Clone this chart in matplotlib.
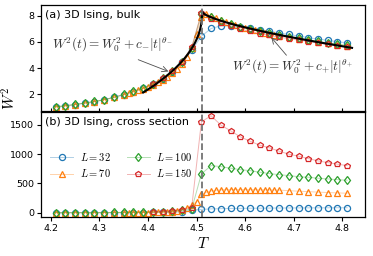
import matplotlib
matplotlib.use("Agg")
import matplotlib.pyplot as plt
import numpy as np

plt.rcParams['mathtext.fontset'] = 'cm'
plt.rcParams['font.family'] = ['DejaVu Sans']

# ---------------- data ----------------
T_std = [4.21, 4.23, 4.25, 4.27, 4.29, 4.31, 4.33, 4.35, 4.37, 4.39, 4.41, 4.43,
         4.45, 4.47, 4.49, 4.51, 4.53, 4.55, 4.57, 4.59, 4.61, 4.63, 4.65, 4.67,
         4.69, 4.71, 4.73, 4.75, 4.77, 4.79, 4.81]
T_70 = [4.21, 4.23, 4.25, 4.27, 4.29, 4.31, 4.33,
        4.35, 4.36, 4.37, 4.38, 4.39, 4.40, 4.41, 4.42, 4.43, 4.44, 4.45, 4.46,
        4.47, 4.48, 4.49, 4.50, 4.51, 4.52, 4.53, 4.54, 4.55, 4.56, 4.57, 4.58,
        4.59, 4.60, 4.61, 4.62, 4.63, 4.64, 4.65, 4.66, 4.67,
        4.69, 4.71, 4.73, 4.75, 4.77, 4.79, 4.81]
T_150 = [4.41, 4.43, 4.45, 4.47, 4.49, 4.51, 4.53, 4.55, 4.57, 4.59, 4.61, 4.63,
         4.65, 4.67, 4.69, 4.71, 4.73, 4.75, 4.77, 4.79, 4.81]

# bulk W^2
bulk_32 = [1.02, 1.10, 1.20, 1.31, 1.43, 1.57, 1.75, 1.96, 2.19, 2.44, 2.78, 3.15,
           3.68, 4.45, 5.35, 6.44, 7.03, 7.23, 7.23, 7.15, 7.08, 6.95, 6.82, 6.69,
           6.57, 6.45, 6.33, 6.22, 6.12, 6.02, 5.93]
bulk_70 = [1.02, 1.10, 1.20, 1.31, 1.43, 1.57, 1.75,
           1.95, 2.05, 2.16, 2.28, 2.42, 2.57, 2.72, 2.90, 3.10, 3.32, 3.60, 3.92,
           4.32, 4.82, 5.50, 6.60, 7.90, 8.15, 7.95, 7.80, 7.65, 7.52, 7.40, 7.28,
           7.17, 7.07, 6.97, 6.88, 6.80, 6.72, 6.64, 6.56, 6.49,
           6.36, 6.24, 6.12, 6.00, 5.90, 5.80, 5.70]
bulk_100 = [1.04, 1.12, 1.21, 1.32, 1.44, 1.58, 1.76, 1.98, 2.22, 2.47, 2.80, 3.20,
            3.75, 4.50, 5.55, 8.15, 7.88, 7.63, 7.40, 7.18, 7.00, 6.83, 6.68, 6.54,
            6.41, 6.28, 6.16, 6.04, 5.93, 5.83, 5.73]
bulk_150 = [2.80, 3.20, 3.75, 4.50, 5.60, 8.20, 7.75, 7.45, 7.20, 6.98, 6.80, 6.64,
            6.50, 6.37, 6.25, 6.14, 6.03, 5.92, 5.81, 5.71, 5.62]

# cross-section W^2
cs_32 = [1, 1, 1, 1, 1, 2, 2, 2, 3, 4, 5, 7, 10, 18, 40, 58, 66, 70, 73, 75, 77,
         78, 80, 81, 82, 83, 84, 84, 85, 86, 86]
cs_70 = [1, 1, 1, 1, 1, 2, 2,
         2, 3, 3, 3, 4, 4, 5, 6, 7, 10, 14, 22,
         45, 86, 132, 188, 315, 349, 372, 383, 390, 393, 395, 395,
         395, 394, 394, 393, 392, 391, 390, 388, 386,
         377, 368, 360, 352, 345, 339, 333]
cs_100 = [2, 2, 2, 3, 3, 4, 5, 6, 8, 10, 14, 20, 28, 40, 60, 663, 805, 788, 760,
          736, 719, 692, 668, 651, 634, 616, 606, 589, 577, 565, 555]
cs_150 = [17, 20, 34, 55, 86, 1553, 1656, 1497, 1399, 1296, 1222, 1154, 1108,
          1051, 1000, 966, 925, 885, 856, 829, 805]

labels = ["$L=32$", "$L=70$", "$L=100$", "$L=150$"]
colors = ["#1f77b4", "#ff7f0e", "#2ca02c", "#d62728"]
markers = ["o", "^", "d", "p"]

# critical temperature and fit parameters
Tc = 4.5115
W0sq = 8.3
c_minus, th_minus = -32.0, 0.455
c_plus, th_plus = -16.8, 0.674
T_fit_lo, T_fit_hi = 4.39, 4.82

# ---------------- figure ----------------
fig = plt.figure(figsize=(3.73, 2.56), dpi=100)
ax1 = fig.add_axes([0.110, 0.568, 0.869, 0.412])
ax2 = fig.add_axes([0.110, 0.152, 0.869, 0.411], sharex=ax1)

Ts = [T_std, T_70, T_std, T_150]
bulk = [bulk_32, bulk_70, bulk_100, bulk_150]
cs = [cs_32, cs_70, cs_100, cs_150]

handles = []
for ax, ys in ((ax1, bulk), (ax2, cs)):
    for T, y, c, m, lab in zip(Ts, ys, colors, markers, labels):
        ln, = ax.plot(T, y, '-', color=c, lw=0.7, alpha=0.35)
        mk, = ax.plot(T, y, ls='none', marker=m, ms=4.4, mfc='none', mec=c,
                      mew=0.9)
        if ax is ax2:
            handles.append((ln, mk))

# fit curves
Tl = np.linspace(T_fit_lo, Tc, 200)
Tr = np.linspace(Tc, T_fit_hi, 200)
tl = np.abs((Tl - Tc) / Tc)
tr = np.abs((Tr - Tc) / Tc)
ax1.plot(Tl, W0sq + c_minus * tl ** th_minus, color='k', lw=1.5, zorder=5)
ax1.plot(Tr, W0sq + c_plus * tr ** th_plus, color='k', lw=1.5, zorder=5)

for ax in (ax1, ax2):
    ax.axvline(Tc, color='0.45', ls='--', lw=1.3, zorder=6)
    ax.tick_params(labelsize=6.8, length=3, width=0.8, pad=2)
    for s in ax.spines.values():
        s.set_linewidth(0.9)

ax1.set_xlim(4.18, 4.847)
ax1.set_ylim(0.74, 8.82)
ax1.set_yticks([2, 4, 6, 8])
ax1.tick_params(axis='x', direction='in', labelbottom=False, length=2.5)
ax2.set_ylim(-74, 1722)
ax2.set_yticks([0, 500, 1000, 1500])
ax2.set_xticks([4.2, 4.3, 4.4, 4.5, 4.6, 4.7, 4.8])

ax1.text(0.012, 0.955, "(a) 3D Ising, bulk", transform=ax1.transAxes,
         fontsize=8, va='top', ha='left')
ax2.text(0.012, 0.955, "(b) 3D Ising, cross section", transform=ax2.transAxes,
         fontsize=8, va='top', ha='left')

# annotations
ax1.text(4.326, 5.8, r"$W^2(t) = W_0^2 + c_{-}|t|^{\theta_{-}}$", fontsize=9.5,
         ha='center', va='center', color='0.2')
ax1.annotate("", xy=(4.442, 3.74), xytext=(4.380, 4.64),
             arrowprops=dict(arrowstyle='->', color='0.3', lw=0.6,
                             shrinkA=0, shrinkB=0))
ax1.text(4.697, 4.08, r"$W^2(t) = W_0^2 + c_{+}|t|^{\theta_{+}}$", fontsize=9.5,
         ha='center', va='center', color='0.2')
ax1.annotate("", xy=(4.654, 6.34), xytext=(4.685, 4.98),
             arrowprops=dict(arrowstyle='->', color='0.3', lw=0.6,
                             shrinkA=0, shrinkB=0))

ax2.legend(handles, labels, ncol=2, frameon=False, fontsize=7.5,
           loc='upper left', bbox_to_anchor=(0.0, 0.72),
           handlelength=2.2, columnspacing=1.6, handletextpad=0.6,
           labelspacing=0.45)

fig.text(0.027, 0.615, "$W^2$", fontsize=11, rotation=90, ha='center',
         va='center')
fig.text(0.545, 0.05, "$T$", fontsize=11, ha='center', va='center')

fig.savefig("out.png", dpi=100)
